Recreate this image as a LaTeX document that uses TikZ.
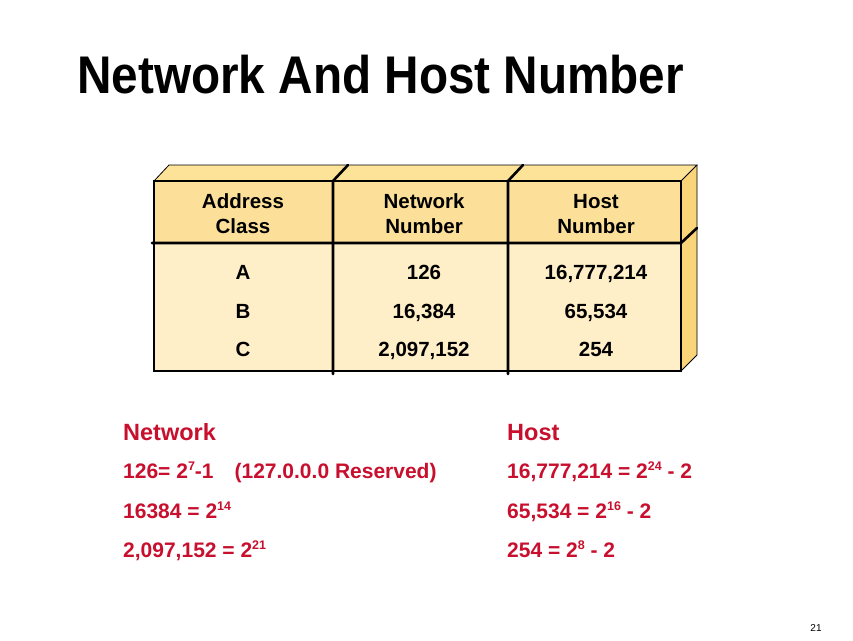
\documentclass[tikz,border=0pt]{standalone}
\usepackage{fontspec}
\setmainfont{Liberation Sans}
\definecolor{topface}{HTML}{FDE397}
\definecolor{headface}{HTML}{FCE09A}
\definecolor{sideface}{HTML}{F9D479}
\definecolor{bodyface}{HTML}{FFEFC8}
\definecolor{redtext}{HTML}{C8102E}
\newcommand\supx[1]{\raisebox{7.5pt}{\fontsize{12.5}{13}\selectfont #1}}
\tikzset{
  thickline/.style={line width=2.6pt, line cap=round},
  thinline/.style={line width=0.8pt},
  celltext/.style={font=\fontsize{20.5}{25}\selectfont\bfseries, anchor=base, inner sep=0pt},
  redhead/.style={font=\fontsize{23.5}{28}\selectfont\bfseries, text=redtext, anchor=base west, inner sep=0pt},
  redline/.style={font=\fontsize{21}{25}\selectfont\bfseries, text=redtext, anchor=base west, inner sep=0pt},
}
\begin{document}
\begin{tikzpicture}[x=1pt,y=-1pt]
\useasboundingbox[fill=white] (0,0) rectangle (853,640);
% title
\node[anchor=base west, inner sep=0pt, xscale=0.9, font=\fontsize{53}{60}\selectfont\bfseries] (title) at (77,93) {Network And Host Number};
% coordinates of the block
\coordinate (fl) at (154,181);
\coordinate (fr) at (681,181);
\coordinate (bl) at (169,165);
\coordinate (br) at (697,165);
\coordinate (hl) at (154,243);
\coordinate (hr) at (681,243);
\coordinate (dl) at (154,371);
\coordinate (dr) at (681,371);
\coordinate (sb) at (697,355);
\coordinate (sh) at (697,228);
% faces
\fill[topface] (fl) -- (bl) -- (br) -- (fr) -- cycle;
\fill[sideface] (fr) -- (br) -- (sb) -- (dr) -- cycle;
\fill[headface] (fl) rectangle (hr);
\fill[bodyface] (hl) rectangle (dr);
% outlines
\draw[thinline] (fl) -- (bl) -- (br) -- (fr);
\draw[thinline] (br) -- (sb) -- (dr);
\draw[line width=1.4pt] (fl) -- (fr) -- (dr) -- (dl) -- cycle;
% header separator
\draw[thickline] (152,243) -- (hr) -- (sh);
% column dividers
\coordinate (c1t) at (333,181);
\coordinate (c1b) at (333,374);
\coordinate (c1k) at (348,165);
\coordinate (c2t) at (508,181);
\coordinate (c2b) at (508,374);
\coordinate (c2k) at (523,165);
\draw[thickline] (c1k) -- (c1t) -- (c1b);
\draw[thickline] (c2k) -- (c2t) -- (c2b);
% header texts
\node[celltext] (h1a) at (243,208) {Address};
\node[celltext] (h1b) at (243,233) {Class};
\node[celltext] (h2a) at (424,208) {Network};
\node[celltext] (h2b) at (424,233) {Number};
\node[celltext] (h3a) at (596,208) {Host};
\node[celltext] (h3b) at (596,233) {Number};
% rows
\node[celltext] (a1) at (243,279) {A};
\node[celltext] (a2) at (424,279) {126};
\node[celltext] (a3) at (596,279) {16,777,214};
\node[celltext] (b1) at (243,318) {B};
\node[celltext] (b2) at (424,318) {16,384};
\node[celltext] (b3) at (596,318) {65,534};
\node[celltext] (cc1) at (243,356) {C};
\node[celltext] (cc2) at (424,356) {2,097,152};
\node[celltext] (cc3) at (596,356) {254};
% bottom text
\node[redhead] (nh) at (123,440) {Network};
\node[redline] (n1) at (123,478) {126= 2\supx{7}-1\quad(127.0.0.0 Reserved)};
\node[redline] (n2) at (123,518) {16384 = 2\supx{14}};
\node[redline] (n3) at (123,557) {2,097,152 = 2\supx{21}};
\node[redhead] (hh) at (507,440) {Host};
\node[redline] (m1) at (507,478) {16,777,214 = 2\supx{24} - 2};
\node[redline] (m2) at (507,518) {65,534 = 2\supx{16} - 2};
\node[redline] (m3) at (507,557) {254 = 2\supx{8} - 2};
% page number
\node[anchor=base, inner sep=0pt, font=\fontsize{10}{12}\selectfont] (pg) at (816,631) {21};
\end{tikzpicture}
\end{document}
